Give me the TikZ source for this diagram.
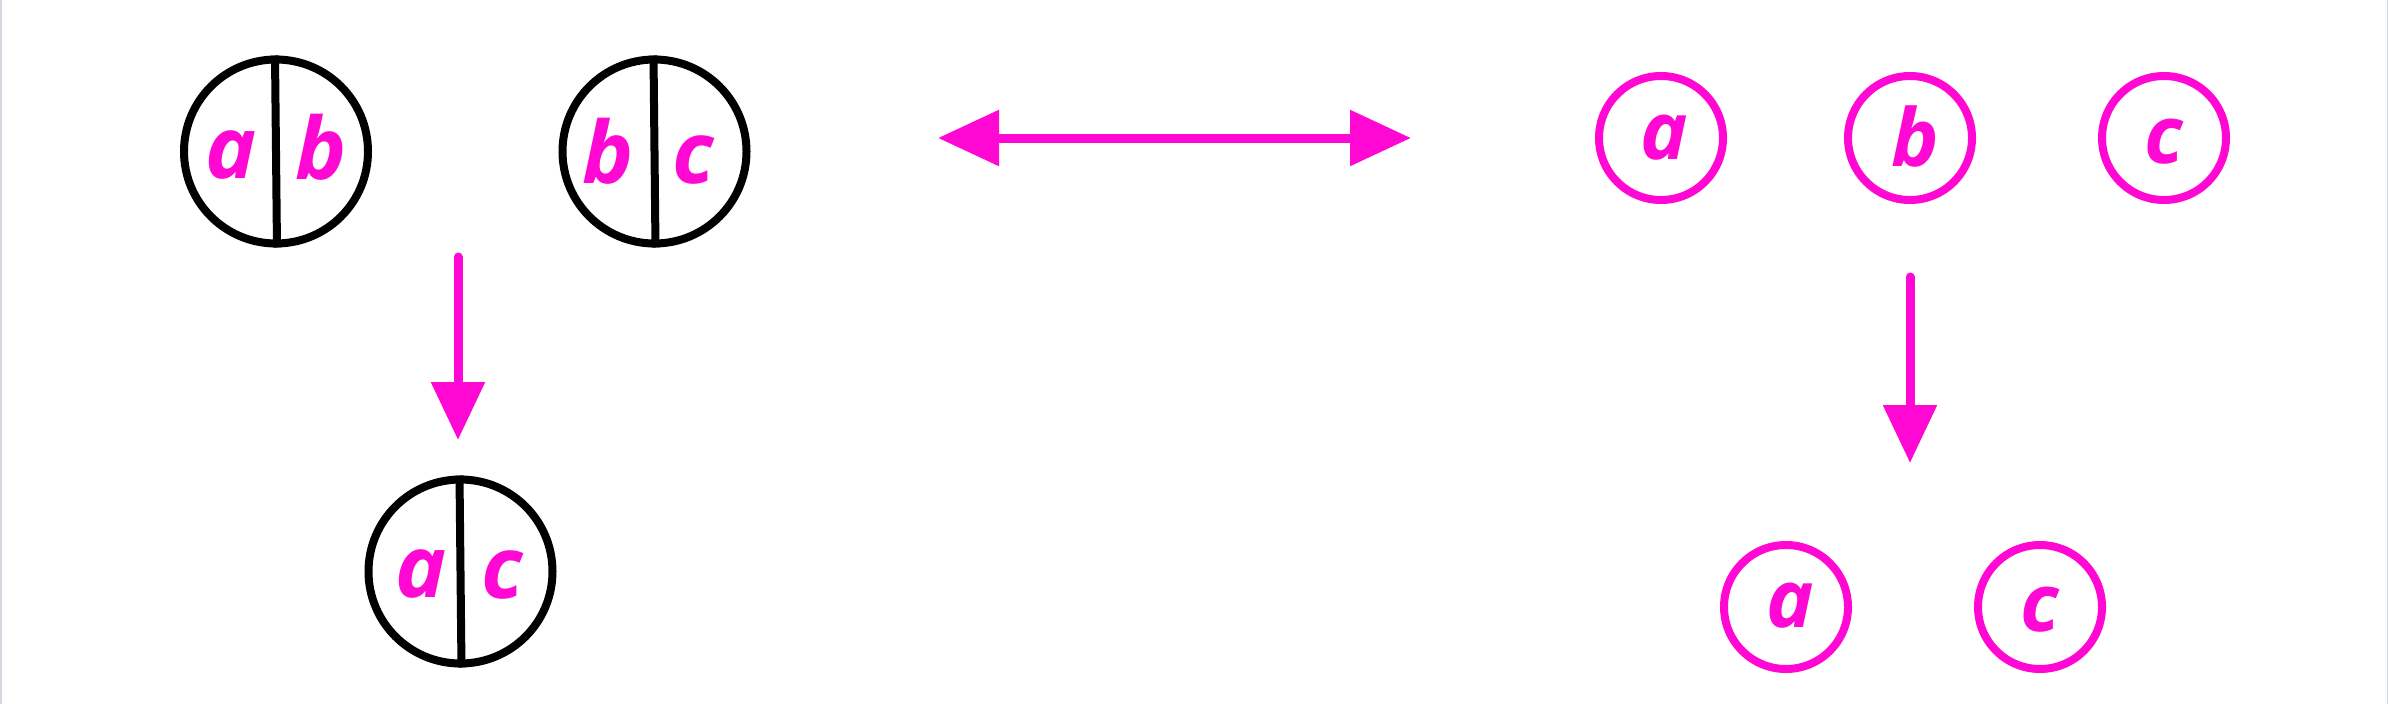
\documentclass[tikz,border=0pt]{standalone}
\usepackage{fontspec}
\newfontfamily\handfont{Open Sans}
\usetikzlibrary{arrows.meta}
\definecolor{mag}{RGB}{255,8,212}
\definecolor{edgegray}{RGB}{212,216,226}
\tikzset{
  bigcirc/.style={circle,draw=black,line width=8pt,minimum size=184pt,inner sep=0pt},
  smallcirc/.style={circle,draw=mag,line width=8pt,minimum size=124pt,inner sep=0pt},
  divider/.style={draw=black,line width=8pt},
  letter/.style={text=mag,inner sep=0pt,anchor=base,font=\handfont\bfseries\itshape\fontsize{86}{86}\selectfont},
  smallletter/.style={letter,font=\handfont\bfseries\itshape\fontsize{80}{80}\selectfont},
  arr/.style={draw=mag,line width=9pt,line cap=butt},
  dblarrow/.style={arr,{Triangle[length=61pt,width=54pt]}-{Triangle[length=61pt,width=54pt]}},
  downarrow/.style={arr,line cap=round,-{Triangle[length=58pt,width=52pt]}}
}
\begin{document}
\begin{tikzpicture}[x=1pt,y=-1pt]
\useasboundingbox (0,0) rectangle (2388,704);
\fill[white] (0,0) rectangle (2388,704);
\draw[edgegray,line width=1.5pt] (0.75,0) -- (0.75,704);
\draw[edgegray,line width=1.5pt] (2387.25,0) -- (2387.25,704);

% black split circles
\node[bigcirc] (cab) at (276,151.5) {};
\node[bigcirc] (cbc) at (654.5,151.5) {};
\node[bigcirc] (cac) at (460.5,571.5) {};
\draw[divider] ([xshift=-1pt]cab.north) -- ([xshift=1pt]cab.south);
\draw[divider] ([xshift=-1pt]cbc.north) -- ([xshift=1pt]cbc.south);
\draw[divider] ([xshift=-1pt]cac.north) -- ([xshift=1pt]cac.south);

\node[letter] (ab-a) at (231,178) {a};
\node[letter] (ab-b) at (321,179) {b};
\node[letter] (bc-b) at (608,183) {b};
\node[letter] (bc-c) at (693,183) {c};
\node[letter] (ac-a) at (421,597) {a};
\node[letter] (ac-c) at (502,598) {c};

% magenta single circles
\node[smallcirc] (ma) at (1661,138) {};
\node[smallcirc] (mb) at (1910,138) {};
\node[smallcirc] (mc) at (2164,138) {};
\node[smallcirc] (ma2) at (1786,607) {};
\node[smallcirc] (mc2) at (2040,607) {};
\node[smallletter] (ma-t) at ([xshift=3pt]ma |- 0,159) {a};
\node[smallletter] (mb-t) at ([xshift=5pt]mb |- 0,166) {b};
\node[smallletter] (mc-t) at (mc |- 0,163) {c};
\node[smallletter] (ma2-t) at ([xshift=4pt]ma2 |- 0,627) {a};
\node[smallletter] (mc2-t) at (mc2 |- 0,631) {c};

% arrows
\coordinate (hl) at (938,138);
\coordinate (hr) at (1411,138);
\draw[dblarrow] (hl) -- (hr);
\coordinate (d1s) at (458,257);
\coordinate (d1e) at (458,440);
\draw[downarrow] (d1s) -- (d1e);
\coordinate (d2s) at (1910,277);
\coordinate (d2e) at (1910,463);
\draw[downarrow] (d2s) -- (d2e);
\end{tikzpicture}
\end{document}
